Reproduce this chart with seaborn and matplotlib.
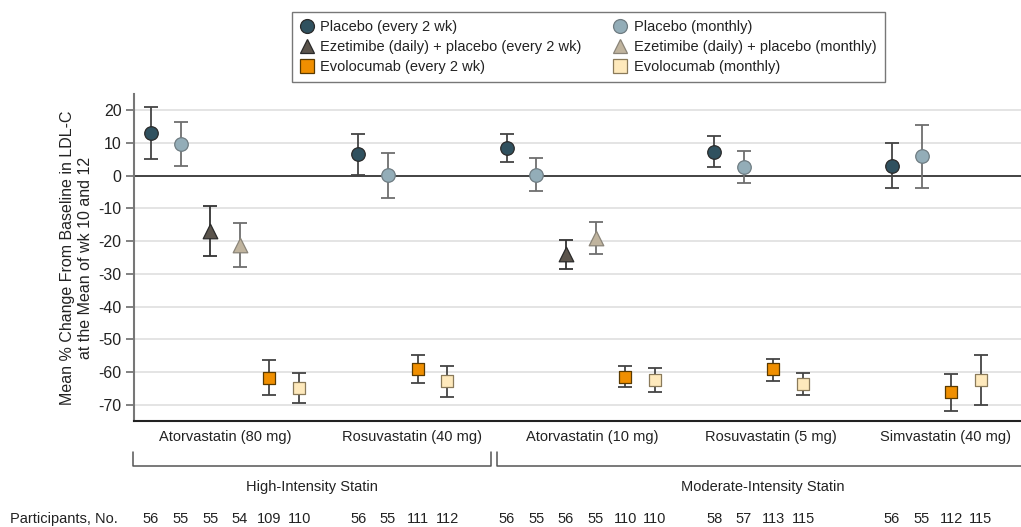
import numpy as np
import pandas as pd
import matplotlib
matplotlib.use("Agg")
import matplotlib.pyplot as plt
import matplotlib.transforms as mtransforms
from matplotlib.lines import Line2D
import seaborn as sns

# ---- data ----
groups = ["Atorvastatin (80 mg)", "Rosuvastatin (40 mg)", "Atorvastatin (10 mg)",
          "Rosuvastatin (5 mg)", "Simvastatin (40 mg)"]
intensity = ["High-Intensity Statin", "Moderate-Intensity Statin"]

series = ["Placebo (every 2 wk)", "Placebo (monthly)",
          "Ezetimibe (daily) + placebo (every 2 wk)", "Ezetimibe (daily) + placebo (monthly)",
          "Evolocumab (every 2 wk)", "Evolocumab (monthly)"]

placebo_q2w_mean = [13.0, 6.5, 8.6, 7.4, 3.1]
placebo_q2w_lo = [5.2, 0.3, 4.1, 2.8, -3.6]
placebo_q2w_hi = [21.0, 12.7, 12.8, 12.2, 10.0]
placebo_q2w_n = [56, 56, 56, 58, 56]

placebo_m_mean = [9.8, 0.1, 0.1, 2.6, 6.0]
placebo_m_lo = [2.9, -6.9, -4.8, -2.1, -3.6]
placebo_m_hi = [16.4, 6.9, 5.4, 7.6, 15.5]
placebo_m_n = [55, 55, 55, 57, 55]

eze_q2w_mean = [-16.8, None, -23.9, None, None]
eze_q2w_lo = [-24.4, None, -28.4, None, None]
eze_q2w_hi = [-9.3, None, -19.5, None, None]
eze_q2w_n = [55, None, 56, None, None]

eze_m_mean = [-21.3, None, -19.1, None, None]
eze_m_lo = [-27.9, None, -24.0, None, None]
eze_m_hi = [-14.5, None, -14.0, None, None]
eze_m_n = [54, None, 55, None, None]

evo_q2w_mean = [-61.7, -59.1, -61.4, -59.1, -66.2]
evo_q2w_lo = [-67.2, -63.5, -64.5, -62.7, -72.0]
evo_q2w_hi = [-56.2, -54.7, -58.2, -56.0, -60.5]
evo_q2w_n = [109, 111, 110, 113, 112]

evo_m_mean = [-65.0, -62.8, -62.6, -63.8, -62.4]
evo_m_lo = [-69.6, -67.7, -66.1, -67.2, -70.0]
evo_m_hi = [-60.3, -58.1, -58.8, -60.4, -54.9]
evo_m_n = [110, 112, 110, 115, 115]

# ---- styling ----
colors = ["#30515f", "#93adb8", "#5b544c", "#c0b49e", "#f08f00", "#fee9bc"]
edges = ["#2a2a2a", "#6f7c82", "#2a2a2a", "#8a8478", "#5a3a00", "#8a7a5a"]
bar_colors = ["#444444", "#6e6e6e", "#333333", "#6e6e6e", "#444444", "#444444"]
markers = ["o", "o", "^", "^", "s", "s"]
sizes = [95, 95, 110, 110, 80, 80]
group_gap = [1, 1, 1, 2]
label_x = [2.5, 8.8, 14.9, 20.9, 26.8]

means = [placebo_q2w_mean, placebo_m_mean, eze_q2w_mean, eze_m_mean, evo_q2w_mean, evo_m_mean]
los = [placebo_q2w_lo, placebo_m_lo, eze_q2w_lo, eze_m_lo, evo_q2w_lo, evo_m_lo]
his = [placebo_q2w_hi, placebo_m_hi, eze_q2w_hi, eze_m_hi, evo_q2w_hi, evo_m_hi]
ns = [placebo_q2w_n, placebo_m_n, eze_q2w_n, eze_m_n, evo_q2w_n, evo_m_n]

# long table with slot positions
rows = []
start = 0
for g, grp in enumerate(groups):
    k = 0
    for s, name in enumerate(series):
        if means[s][g] is None:
            continue
        rows.append(dict(group=grp, series=name, x=start + k, mean=means[s][g],
                         lo=los[s][g], hi=his[s][g], n=ns[s][g]))
        k += 1
    if g < len(group_gap):
        start += k + group_gap[g]
df = pd.DataFrame(rows)

sns.set_style("white")
plt.rcParams["font.family"] = ["Liberation Sans", "DejaVu Sans"]
plt.rcParams["axes.unicode_minus"] = False

W, H = 1021, 527
fig = plt.figure(figsize=(W / 100, H / 100), dpi=100)
ax = fig.add_axes([134 / W, 1 - 421 / H, 1 - 134 / W, (421 - 94) / H])

for s, name in enumerate(series):
    d = df[df["series"] == name]
    ax.errorbar(d["x"], d["mean"], yerr=[d["mean"] - d["lo"], d["hi"] - d["mean"]],
                fmt="none", ecolor=bar_colors[s], elinewidth=1.3, capsize=5,
                capthick=1.3, zorder=3)
    sns.scatterplot(data=d, x="x", y="mean", ax=ax, color=colors[s], marker=markers[s],
                    s=sizes[s], edgecolor=edges[s], linewidth=0.9, zorder=4, legend=False)

ax.set_ylim(-75, 25)
ax.set_xlim(-0.57, 29.35)
ax.set_yticks(np.arange(-70, 21, 10))
ax.set_xticks([])
ax.set_xlabel("")
ax.set_ylabel("Mean % Change From Baseline in LDL-C\nat the Mean of wk 10 and 12",
              fontsize=11.5, color="#222222", labelpad=4, linespacing=1.2)
for yv in np.arange(-70, 21, 10):
    if yv != 0:
        ax.axhline(yv, color="#e4e4e4", lw=1.4, zorder=0)
ax.axhline(0, color="#222222", lw=1.2, zorder=1)
ax.tick_params(axis="y", direction="out", length=6, width=1.3, color="#777777",
               labelsize=11.5, labelcolor="#222222", pad=3, left=True)
for side in ["top", "right"]:
    ax.spines[side].set_visible(False)
ax.spines["left"].set_color("#777777")
ax.spines["left"].set_linewidth(1.5)
ax.spines["bottom"].set_color("#222222")
ax.spines["bottom"].set_linewidth(1.5)

# ---- labels beneath the axis ----
tr = mtransforms.blended_transform_factory(ax.transData, fig.transFigure)
fy = lambda py: 1 - py / H
for g, grp in enumerate(groups):
    ax.text(label_x[g], fy(437), grp, transform=tr, ha="center", va="center",
            fontsize=10.5, color="#222222", clip_on=False)

# brackets for statin intensity
xl = ax.get_xlim()
b1 = (xl[0] - 0.03, 11.47)
b2 = (11.67, 31.0)
for (a, b) in [b1, b2]:
    ax.plot([a, a, b, b], [fy(452), fy(466), fy(466), fy(452)], transform=tr,
            color="#555555", lw=1.1, clip_on=False)
ax.text(5.43, fy(487), intensity[0], transform=tr, ha="center", va="center",
        fontsize=10.5, color="#222222")
ax.text(20.65, fy(487), intensity[1], transform=tr, ha="center", va="center",
        fontsize=10.5, color="#222222")

# participants row
fig.text(10 / W, fy(519), "Participants, No.", ha="left", va="center",
         fontsize=10.5, color="#222222")
for _, r in df.iterrows():
    ax.text(r["x"], fy(519), str(int(r["n"])), transform=tr, ha="center",
            va="center", fontsize=10.5, color="#222222")

# ---- legend ----
handles = [Line2D([], [], ls="none", marker=markers[s], markersize=10 if s < 4 else 9.5,
                  markerfacecolor=colors[s], markeredgecolor=edges[s], markeredgewidth=0.9)
           for s in range(len(series))]
order = [0, 2, 4, 1, 3, 5]
leg = fig.legend([handles[i] for i in order], [series[i] for i in order], ncol=2,
                 loc="upper left", bbox_to_anchor=(292 / W, 1 - 12 / H),
                 frameon=True, fancybox=False, fontsize=10.5, handlelength=0.9,
                 handletextpad=0.5, columnspacing=2.2, labelspacing=0.4,
                 borderpad=0.55, borderaxespad=0)
leg.get_frame().set_edgecolor("#555555")
leg.get_frame().set_linewidth(1.0)
for t in leg.get_texts():
    t.set_color("#222222")

fig.savefig("out.png", dpi=100)
